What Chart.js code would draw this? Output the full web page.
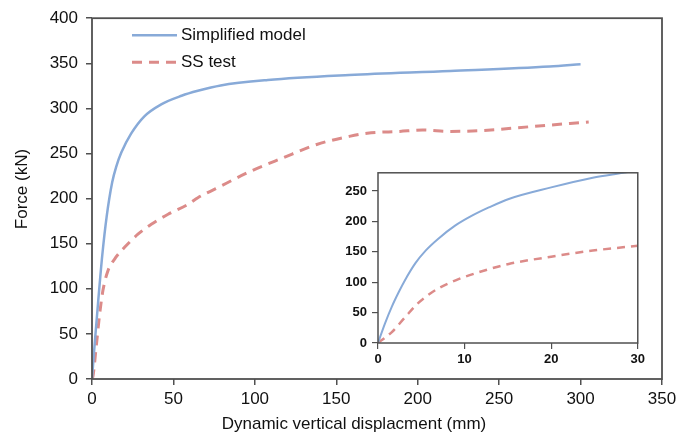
<!DOCTYPE html>
<html>
<head>
<meta charset="utf-8">
<script src="https://cdn.jsdelivr.net/npm/chart.js@4.4.0/dist/chart.umd.min.js"></script>
<style>
  body { margin: 0; background: #fff; }
  #wrap { position: relative; width: 691px; height: 444px; }
  #mainChart { position: absolute; left: 0; top: 0; }
  #insetChart { position: absolute; left: 338px; top: 160px; background: #fff; }
</style>
</head>
<body>
<div id="wrap">
  <canvas id="mainChart" width="691" height="444"></canvas>
  <canvas id="insetChart" width="310" height="212"></canvas>
</div>
<script>
// main plot, values
const modelX = [0, 1.6, 3.7, 6.3, 9, 12.4, 15, 18, 24, 32, 42.5, 55, 65, 79, 108, 158, 220, 281, 300];
const modelY = [0, 38, 84, 137, 180, 218, 236, 251, 272, 291, 304.5, 314, 319.5, 325.5, 331.5, 337, 341.5, 346.5, 349];
const testX = [0, 0.6, 2.6, 4.7, 6.7, 9.8, 13.9, 20, 28.2, 36.4, 46.7, 59, 65, 76, 97, 117, 138, 158, 169, 189, 203, 220, 240, 271, 305];
const testY = [0, 3, 36, 72, 98, 120, 133, 146, 160.5, 171.6, 182.6, 193.6, 201, 211, 230, 245, 260, 269, 272.5, 274.5, 276, 274.5, 275.5, 280, 285];

// inset (first 30 mm)
const insetModelX = [0, 0.8, 1.6, 2.4, 3.1, 4.3, 5.5, 7, 8.9, 10.8, 12.8, 15.1, 20, 24.8, 28.3, 30];
const insetModelY = [0, 32, 60, 84, 103, 131, 152, 172, 193, 209, 223, 237, 256, 272, 280, 284];
const insetTestX = [0, 1.6, 3.1, 4.5, 5.8, 7, 9.3, 12, 15.1, 20, 24.8, 30];
const insetTestY = [0, 18, 42, 64, 79, 90, 105, 118, 130, 142, 152, 160];

const labels = ['Simplified model', 'SS test'];
const blue = '#88aad8';
const red = '#dc8b89';
const axisColor = '#505050';
const font = 'Liberation Sans, Arial, sans-serif';

function pts(xs, ys) {
    return xs.map((x, i) => ({ x: x, y: ys[i] }));
}

const framePlugin = {
    id: 'frame',
    afterDraw(chart, args, opts) {
        const a = chart.chartArea;
        const ctx = chart.ctx;
        ctx.save();
        ctx.strokeStyle = opts.color;
        ctx.lineWidth = opts.width;
        ctx.strokeRect(a.left, a.top, a.right - a.left, a.bottom - a.top);
        ctx.restore();
    }
};

// legend inside the plot and the two axis titles
const textPlugin = {
    id: 'texts',
    afterDraw(chart) {
        const ctx = chart.ctx;
        const a = chart.chartArea;
        ctx.save();
        ctx.font = '17px ' + font;
        ctx.fillStyle = '#111';
        ctx.textBaseline = 'middle';
        chart.data.datasets.forEach((ds, i) => {
            const y = a.top + 17 + i * 27;
            ctx.strokeStyle = ds.borderColor;
            ctx.lineWidth = ds.borderWidth;
            ctx.setLineDash(ds.borderDash || []);
            ctx.beginPath();
            ctx.moveTo(a.left + 40, y);
            ctx.lineTo(a.left + 85, y);
            ctx.stroke();
            ctx.setLineDash([]);
            ctx.textAlign = 'left';
            ctx.fillText(ds.label, a.left + 89, y);
        });
        ctx.textAlign = 'center';
        ctx.fillText('Dynamic vertical displacment (mm)', 354, 424);
        ctx.translate(22, 189);
        ctx.rotate(-Math.PI / 2);
        ctx.fillText('Force (kN)', 0, 0);
        ctx.restore();
    }
};

new Chart(document.getElementById('mainChart'), {
    type: 'line',
    data: {
        datasets: [{
            label: labels[0],
            data: pts(modelX, modelY),
            borderColor: blue,
            borderWidth: 2.5,
            pointRadius: 0,
            cubicInterpolationMode: 'monotone'
        }, {
            label: labels[1],
            data: pts(testX, testY),
            borderColor: red,
            borderWidth: 3,
            borderDash: [10, 7],
            pointRadius: 0,
            cubicInterpolationMode: 'monotone'
        }]
    },
    options: {
        responsive: false,
        animation: false,
        layout: { padding: { top: 16, right: 29, left: 0, bottom: 0 } },
        plugins: {
            legend: { display: false },
            tooltip: { enabled: false },
            frame: { color: axisColor, width: 1.8 }
        },
        scales: {
            x: {
                type: 'linear',
                min: 0,
                max: 350,
                afterFit: s => { s.height = 65; },
                border: { display: false },
                grid: { drawOnChartArea: false, tickLength: 6, tickColor: axisColor, lineWidth: 1.5 },
                ticks: { stepSize: 50, padding: 4, color: '#111', font: { family: font, size: 17 } }
            },
            y: {
                min: 0,
                max: 400,
                afterFit: s => { s.width = 92; },
                border: { display: false },
                grid: { drawOnChartArea: false, tickLength: 6, tickColor: axisColor, lineWidth: 1.5 },
                ticks: { stepSize: 50, padding: 8, color: '#111', font: { family: font, size: 17 } }
            }
        }
    },
    plugins: [framePlugin, textPlugin]
});

new Chart(document.getElementById('insetChart'), {
    type: 'line',
    data: {
        datasets: [{
            label: labels[0],
            data: pts(insetModelX, insetModelY),
            borderColor: blue,
            borderWidth: 2,
            pointRadius: 0,
            cubicInterpolationMode: 'monotone'
        }, {
            label: labels[1],
            data: pts(insetTestX, insetTestY),
            borderColor: red,
            borderWidth: 2.5,
            borderDash: [8, 6],
            pointRadius: 0,
            cubicInterpolationMode: 'monotone'
        }]
    },
    options: {
        responsive: false,
        animation: false,
        layout: { padding: { top: 8, right: 10, left: 0, bottom: 0 } },
        plugins: {
            legend: { display: false },
            tooltip: { enabled: false },
            frame: { color: axisColor, width: 1.5 }
        },
        scales: {
            x: {
                type: 'linear',
                min: 0,
                max: 30,
                afterFit: s => { s.height = 29; },
                border: { display: false },
                grid: { drawOnChartArea: false, tickLength: 6, tickColor: axisColor, lineWidth: 1.2 },
                ticks: { stepSize: 10, padding: 3, color: '#111', font: { family: font, size: 13, weight: 'bold' } }
            },
            y: {
                min: 0,
                max: 280,
                afterFit: s => { s.width = 40; },
                afterBuildTicks: s => { s.ticks = s.ticks.filter(t => t.value % 50 === 0); },
                border: { display: false },
                grid: { drawOnChartArea: false, tickLength: 6, tickColor: axisColor, lineWidth: 1.2 },
                ticks: { stepSize: 50, padding: 5, color: '#111', font: { family: font, size: 13, weight: 'bold' } }
            }
        }
    },
    plugins: [framePlugin]
});
</script>
</body>
</html>
